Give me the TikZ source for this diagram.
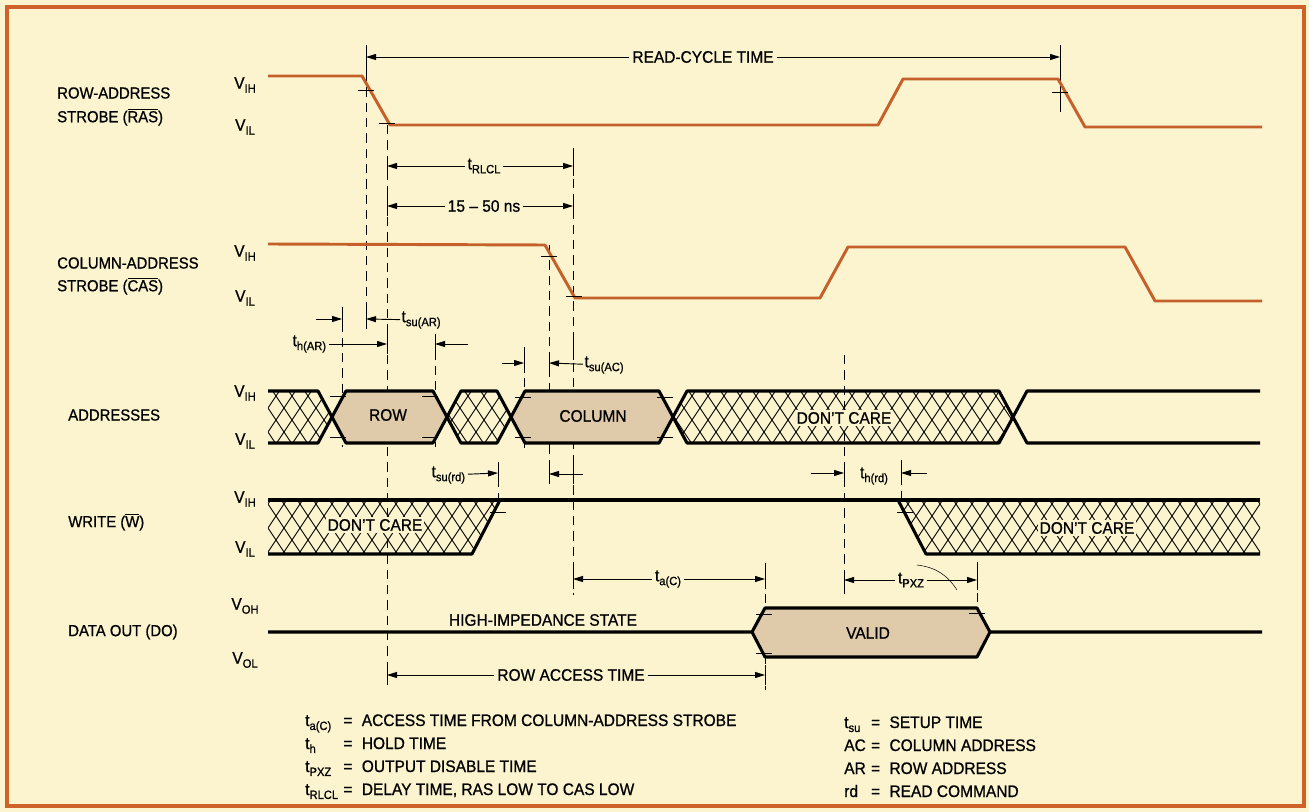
\documentclass[tikz,border=0pt]{standalone}
\usepackage{fontspec}
\setmainfont{Liberation Sans}[FakeStretch=0.93,FakeBold=0.8]
\usetikzlibrary{arrows.meta}
\definecolor{paper}{HTML}{FBF4CE}
\definecolor{rim}{HTML}{CF6229}
\definecolor{strobe}{HTML}{C5602A}
\definecolor{valid}{HTML}{DFCBAA}
\newcommand{\sig}[2]{#1\raisebox{-0.45ex}{\fontsize{9}{9}\selectfont #2}}
\newcommand{\ovl}[1]{\ensuremath{\overline{\mbox{#1}}}}
\newcommand{\xhatch}[1]{%
  \begin{scope}
    \clip #1;
    \foreach \k in {100,116,...,1500} {
      \draw[hatch] (\k,300) -- ++(200,300);
      \draw[hatch] (\k,300) -- ++(-200,300);
    }
  \end{scope}}

\begin{document}
\begin{tikzpicture}[x=0.75pt,y=-0.75pt,
  font=\fontsize{12.5}{15}\selectfont,
  sname/.style={anchor=west,inner sep=0pt,font=\fontsize{12}{14}\selectfont},
  lvl/.style={inner sep=0pt},
  wave/.style={strobe,line width=2.2pt,line join=round},
  bus/.style={line width=2.3pt,line join=round},
  hatch/.style={line width=0.65pt},
  guide/.style={line width=0.6pt,dash pattern=on 7pt off 4.5pt},
  bar/.style={line width=0.6pt},
  dim/.style={-{Triangle[length=7.5pt,width=4.5pt]},line width=0.7pt},
  tag/.style={inner sep=2pt},
  cut/.style={fill=paper,inner sep=1.5pt}]
\useasboundingbox (0,0) rectangle (1309,812);
\fill[paper] (0,0) rectangle (1309,812);
\draw[rim,line width=3.2pt] (7,7) rectangle (1304,806);

% signal names and levels
\node[sname] (rasa) at (57,93) {ROW-ADDRESS};
\node[sname] (rasb) at (57,117) {STROBE (\ovl{RAS})};
\node[sname] (casa) at (57,263) {COLUMN-ADDRESS};
\node[sname] (casb) at (57,286) {STROBE (\ovl{CAS})};
\node[sname] (addr) at (68,415) {ADDRESSES};
\node[sname] (wr) at (68,522) {WRITE (\ovl{W})};
\node[sname] (dout) at (68,632) {DATA OUT (DO)};
\node[lvl] (rasvh) at (245,85) {\sig{V}{IH}};
\node[lvl] (rasvl) at (245,127) {\sig{V}{IL}};
\node[lvl] (casvh) at (245,253) {\sig{V}{IH}};
\node[lvl] (casvl) at (245,298) {\sig{V}{IL}};
\node[lvl] (advh) at (245,393) {\sig{V}{IH}};
\node[lvl] (advl) at (245,441) {\sig{V}{IL}};
\node[lvl] (wrvh) at (245,499) {\sig{V}{IH}};
\node[lvl] (wrvl) at (245,549) {\sig{V}{IL}};
\node[lvl] (dovh) at (245,606) {\sig{V}{OH}};
\node[lvl] (dovl) at (245,660) {\sig{V}{OL}};

% guide lines
\draw[guide] (366,72) -- (366,325);
\draw[guide] (387,125) -- (387,680);
\draw[guide] (573,148) -- (573,595);
\draw[guide] (549,245) -- (549,487);
\draw[guide] (342,307) -- (342,447);
\draw[guide] (435,335) -- (435,447);
\draw[guide] (524,347) -- (524,450);
\draw[guide] (498,462) -- (498,500);
\draw[guide] (844,355) -- (844,597);
\draw[guide] (901,460) -- (901,500);
\draw[guide] (765,563) -- (765,690);
\draw[guide] (977,562) -- (977,615);
\draw[bar] (366,45) -- (366,72);
\draw[bar] (1060,45) -- (1060,112);

% strobes
\draw[wave] (268,76) -- (362,76) -- (390,125) -- (878,125) -- (903,79) -- (1058,79) -- (1085,127) -- (1262,127);
\draw[wave] (268,244) -- (545,245) -- (575,298) -- (820,298) -- (848,247) -- (1125,247) -- (1155,301) -- (1262,301);

% addresses
\fill[valid] (332,417) -- (346,391) -- (433,391) -- (447,417) -- (433,443) -- (346,443) -- cycle;
\fill[valid] (511,417) -- (525,391) -- (659,391) -- (673,417) -- (659,443) -- (525,443) -- cycle;
\xhatch{(268,391) -- (318,391) -- (332,417) -- (318,443) -- (268,443) -- cycle}
\xhatch{(447,417) -- (461,391) -- (497,391) -- (511,417) -- (497,443) -- (461,443) -- cycle}
\xhatch{(673,417) -- (687,391) -- (999,391) -- (1013,417) -- (999,443) -- (687,443) -- cycle}
\draw[bus] (268,391) -- (318,391) -- (346,443) -- (433,443) -- (461,391) -- (497,391) -- (525,443) -- (659,443) -- (687,391) -- (999,391) -- (1027,443) -- (1260,443);
\draw[bus] (268,443) -- (318,443) -- (346,391) -- (433,391) -- (461,443) -- (497,443) -- (525,391) -- (659,391) -- (687,443) -- (999,443) -- (1027,391) -- (1260,391);
\node (row) at (388,415) {ROW};
\node (col) at (593,416) {COLUMN};
\node[cut] (adc) at (844,418) {DON'T CARE};

% write
\xhatch{(268,500) -- (500,500) -- (472,554) -- (268,554) -- cycle}
\xhatch{(898,500) -- (926,554) -- (1260,554) -- (1260,500) -- cycle}
\draw[bus] (268,500) -- (1260,500);
\draw[bus] (268,554) -- (472,554) -- (500,500);
\draw[bus] (898,500) -- (926,554) -- (1260,554);
\node[cut] (wdc1) at (375,525) {DON'T CARE};
\node[cut] (wdc2) at (1087,528) {DON'T CARE};

% data out
\fill[valid] (752,632) -- (765,608) -- (977,608) -- (990,632) -- (977,657) -- (765,657) -- cycle;
\draw[bus] (268,632) -- (752,632) -- (765,608) -- (977,608) -- (990,632) -- (1262,632);
\draw[bus] (752,632) -- (765,657) -- (977,657) -- (990,632);
\node (hiz) at (543,620) {HIGH-IMPEDANCE STATE};
\node (vld) at (868,633) {VALID};

% threshold marks
\foreach \x/\y in {366/90,387/123,1060/92,549/256,574/296,338/396,338/437,430/396,430/437,
  523/397,523/437,665/397,665/437,498/512,905/512,764/614,764/653,977/613}
  \draw[bar] (\x-8,\y) -- (\x+8,\y);
\foreach \x/\y in {387/166,573/166,387/206,573/206,342/319,366/319,387/344,435/344,
  524/363,549/363,573/350,498/473,549/474,573/474,844/473,901/473,573/579,765/579,
  844/580,977/580,387/675,765/675}
  \draw[bar] (\x,\y-10) -- (\x,\y+10);

% timing intervals
\node[tag] (rct) at (703,57) {READ-CYCLE TIME};
\draw[dim] (rct) -- (366,57);
\draw[dim] (rct) -- (1060,57);
\node[tag] (trlcl) at (484,166) {\sig{t}{RLCL}};
\draw[dim] (trlcl) -- (387,166);
\draw[dim] (trlcl) -- (573,166);
\node[tag] (span) at (484,206) {15 -- 50 ns};
\draw[dim] (span) -- (387,206);
\draw[dim] (span) -- (573,206);
\node[anchor=west,inner sep=1pt] (tsuar) at (400,320) {\sig{t}{su(AR)}};
\draw[dim] (316,319) -- (342,319);
\draw[dim] (tsuar) -- (366,319);
\node[anchor=east,inner sep=2pt] (thar) at (329,344) {\sig{t}{h(AR)}};
\draw[dim] (thar) -- (387,344);
\draw[dim] (468,344) -- (435,344);
\node[anchor=west,inner sep=1pt] (tsuac) at (583,365) {\sig{t}{su(AC)}};
\draw[dim] (502,363) -- (524,363);
\draw[dim] (tsuac) -- (549,363);
\node[anchor=east,inner sep=2pt] (tsurd) at (468,475) {\sig{t}{su(rd)}};
\draw[dim] (tsurd) -- (498,473);
\draw[dim] (583,474) -- (549,474);
\node[tag] (thrd) at (874,476) {\sig{t}{h(rd)}};
\draw[dim] (811,473) -- (844,473);
\draw[dim] (927,473) -- (901,473);
\node[tag] (tac) at (668,579) {\sig{t}{a(C)}};
\draw[dim] (tac) -- (573,579);
\draw[dim] (tac) -- (765,579);
\node[tag] (tpxz) at (911,580) {\sig{t}{PXZ}};
\draw[dim] (tpxz) -- (844,580);
\draw[dim] (tpxz) -- (977,580);
\draw[line width=0.4pt] (917,565) to[bend left=25] (957,590);
\node[tag] (rat) at (571,675) {ROW ACCESS TIME};
\draw[dim] (rat) -- (387,675);
\draw[dim] (rat) -- (765,675);

% key
\node[anchor=base west,inner sep=0pt] (keyl) at (305,726) {\fontsize{12.5}{17.25}\selectfont
  \begin{tabular}[t]{@{}l@{\hspace{4pt}}c@{\hspace{7pt}}l@{}}
  \sig{t}{a(C)} & = & ACCESS TIME FROM COLUMN-ADDRESS STROBE\\
  \sig{t}{h} & = & HOLD TIME\\
  \sig{t}{PXZ} & = & OUTPUT DISABLE TIME\\
  \sig{t}{RLCL} & = & DELAY TIME, RAS LOW TO CAS LOW
  \end{tabular}};
\node[anchor=base west,inner sep=0pt] (keyr) at (844,728) {\fontsize{12.5}{17.25}\selectfont
  \begin{tabular}[t]{@{}l@{\hspace{4pt}}c@{\hspace{7pt}}l@{}}
  \sig{t}{su} & = & SETUP TIME\\
  AC & = & COLUMN ADDRESS\\
  AR & = & ROW ADDRESS\\
  rd & = & READ COMMAND
  \end{tabular}};
\end{tikzpicture}
\end{document}
